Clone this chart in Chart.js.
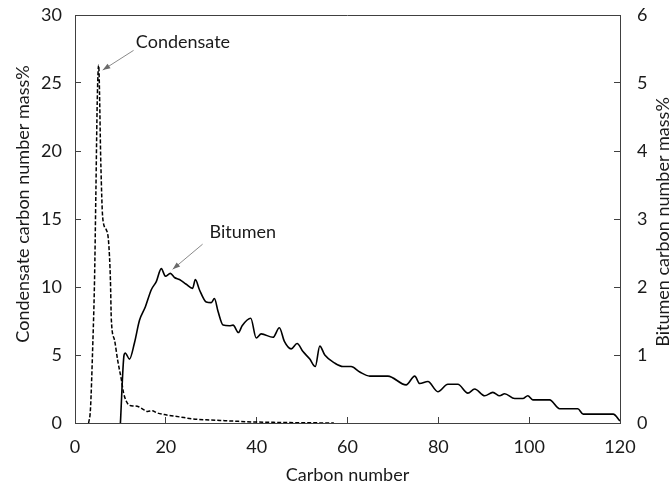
<!DOCTYPE html>
<html>
<head>
<meta charset="utf-8">
<script src="https://cdn.jsdelivr.net/npm/chart.js@4.4.1/dist/chart.umd.min.js"></script>
<style>
  html, body { margin: 0; padding: 0; background: #fff; }
  #wrap { width: 672px; height: 490px; }
</style>
</head>
<body>
<div id="wrap"><canvas id="chart"></canvas></div>
<script>
// Condensate carbon number distribution (left axis, mass%)
const condCarbon = [3, 3.4, 3.9, 4.3, 4.6, 4.9, 5.2, 5.7, 6.1, 6.9, 7.4, 7.8, 8.0, 8.7, 9.4, 10.2, 10.7, 11.3, 12, 13, 14, 15, 16, 17, 18, 20, 23, 26, 30, 33, 36, 40, 45, 50, 57];
const condMass = [0, 1, 5.6, 10.5, 17, 23.7, 26.3, 18.9, 15.1, 14.2, 13.3, 10.5, 7.6, 6.1, 4.6, 3.2, 2.2, 1.6, 1.3, 1.25, 1.2, 1.0, 0.85, 0.9, 0.75, 0.6, 0.45, 0.3, 0.22, 0.17, 0.12, 0.07, 0.04, 0.02, 0];

// Bitumen carbon number distribution (right axis, mass%)
const bitCarbon = [10, 10.8, 11.05, 12, 13.1, 14.2, 15.5, 16.8, 17.9, 19.0, 19.9, 21, 21.9, 23, 24.5, 25.9, 26.5, 27.4, 28.9, 30, 30.7, 31.5, 32.6, 34, 34.8, 36, 36.8, 38.7, 39.9, 41, 43.6, 45, 46.1, 47.6, 48.9, 50.2, 51.7, 52.9, 53.9, 55, 57.2, 59, 60.8, 62.7, 64.9, 68.9, 72.9, 74.8, 75.9, 77.7, 79.9, 82.1, 84.3, 86.5, 88, 90.2, 92, 93.5, 94.6, 96.8, 98.6, 99.7, 100.8, 104.5, 106.7, 110.7, 111.9, 118.5, 120];
const bitMass = [0, 1.0, 1.03, 0.94, 1.18, 1.51, 1.71, 1.96, 2.08, 2.27, 2.16, 2.2, 2.14, 2.11, 2.04, 1.98, 2.11, 1.96, 1.78, 1.77, 1.83, 1.64, 1.44, 1.43, 1.44, 1.33, 1.43, 1.54, 1.25, 1.31, 1.26, 1.4, 1.2, 1.09, 1.17, 1.05, 0.94, 0.83, 1.13, 1.0, 0.88, 0.83, 0.83, 0.75, 0.69, 0.69, 0.56, 0.69, 0.58, 0.61, 0.46, 0.57, 0.57, 0.44, 0.5, 0.4, 0.45, 0.4, 0.43, 0.36, 0.36, 0.4, 0.34, 0.34, 0.21, 0.21, 0.13, 0.13, 0.03];

// Axis ranges and titles
const xRange = [0, 120, 20];
const leftRange = [0, 30, 5];
const rightRange = [0, 6, 1];
const xTitle = "Carbon number";
const leftTitle = "Condensate carbon number mass%";
const rightTitle = "Bitumen carbon number mass%";

const FONT = "Lato, 'Open Sans', sans-serif";
const INK = "#1a1a1a";
const AXIS = "#404040";

const toPoints = (xs, ys) => xs.map((x, i) => ({ x: x, y: ys[i] }));

// fixed plot box: y axes keep the plot top at 15px
const fixY = (w) => (s) => {
    s.width = w;
    s.paddingTop = 15;
    s.paddingBottom = 0;
};

// Draws the plot frame, both y axis titles and the two arrow labels
const extras = {
    id: "extras",
    afterDraw(chart) {
        const ctx = chart.ctx;
        const a = chart.chartArea;
        const sx = chart.scales.x, sy = chart.scales.y, sy1 = chart.scales.y1;
        ctx.save();
        ctx.strokeStyle = AXIS;
        ctx.lineWidth = 1;
        ctx.beginPath();
        ctx.moveTo(a.left, a.top + 0.5);
        ctx.lineTo(a.right, a.top + 0.5);
        ctx.stroke();
        ctx.restore();

        // y axis titles, both reading bottom to top
        const vText = (text, x, y) => {
            ctx.save();
            ctx.fillStyle = INK;
            ctx.font = "18px " + FONT;
            ctx.textAlign = "center";
            ctx.textBaseline = "middle";
            ctx.translate(x, y);
            ctx.rotate(-Math.PI / 2);
            ctx.fillText(text, 0, 0);
            ctx.restore();
        };
        vText(leftTitle, 23, 204);
        vText(rightTitle, 663, 222);

        const arrow = (x1, y1, x2, y2) => {
            ctx.save();
            ctx.strokeStyle = "#8a8a8a";
            ctx.fillStyle = "#6a6a6a";
            ctx.lineWidth = 1;
            ctx.beginPath();
            ctx.moveTo(x1, y1);
            ctx.lineTo(x2, y2);
            ctx.stroke();
            const ang = Math.atan2(y2 - y1, x2 - x1);
            ctx.beginPath();
            ctx.moveTo(x2, y2);
            ctx.lineTo(x2 - 8 * Math.cos(ang - 0.35), y2 - 8 * Math.sin(ang - 0.35));
            ctx.lineTo(x2 - 8 * Math.cos(ang + 0.35), y2 - 8 * Math.sin(ang + 0.35));
            ctx.closePath();
            ctx.fill();
            ctx.restore();
        };

        ctx.save();
        ctx.fillStyle = INK;
        ctx.font = "18px " + FONT;
        ctx.textAlign = "left";
        ctx.textBaseline = "middle";
        // Condensate label
        arrow(sx.getPixelForValue(12.9), sy.getPixelForValue(27.4), sx.getPixelForValue(6.1), sy.getPixelForValue(25.95));
        ctx.fillText("Condensate", sx.getPixelForValue(13.4), sy.getPixelForValue(28.0));
        // Bitumen label
        arrow(sx.getPixelForValue(28.1), sy1.getPixelForValue(2.63), sx.getPixelForValue(21.5), sy1.getPixelForValue(2.26));
        ctx.fillText("Bitumen", sx.getPixelForValue(29.6), sy1.getPixelForValue(2.81));
        ctx.restore();
    },
};

new Chart(document.getElementById("chart"), {
    type: "line",
    plugins: [extras],
    data: {
        datasets: [
            {
                label: "Condensate",
                data: toPoints(condCarbon, condMass),
                yAxisID: "y",
                borderColor: "#000",
                borderWidth: 1.5,
                borderDash: [4, 2],
                pointRadius: 0,
                cubicInterpolationMode: "monotone",
                fill: false,
            },
            {
                label: "Bitumen",
                data: toPoints(bitCarbon, bitMass),
                yAxisID: "y1",
                borderColor: "#000",
                borderWidth: 1.6,
                pointRadius: 0,
                cubicInterpolationMode: "monotone",
                fill: false,
            },
        ],
    },
    options: {
        responsive: true,
        maintainAspectRatio: false,
        animation: false,
        layout: { padding: 0 },
        plugins: {
            legend: { display: false },
            tooltip: { enabled: false },
        },
        scales: {
            x: {
                type: "linear",
                position: "bottom",
                min: xRange[0],
                max: xRange[1],
                afterFit: (s) => { s.height = 67; },
                ticks: { stepSize: xRange[2], padding: 19, color: INK, font: { family: FONT, size: 18 } },
                grid: { drawOnChartArea: false, tickLength: -6, color: AXIS },
                border: { color: AXIS },
                title: { display: true, text: xTitle, color: INK, font: { family: FONT, size: 18 }, padding: { top: 0, bottom: 4 } },
            },
            y: {
                position: "left",
                min: leftRange[0],
                max: leftRange[1],
                afterFit: fixY(75),
                ticks: { stepSize: leftRange[2], padding: 19, color: INK, font: { family: FONT, size: 18 } },
                grid: { drawOnChartArea: false, tickLength: -6, color: AXIS },
                border: { color: AXIS },
            },
            y1: {
                position: "right",
                min: rightRange[0],
                max: rightRange[1],
                afterFit: fixY(52),
                ticks: { stepSize: rightRange[2], padding: 23, color: INK, font: { family: FONT, size: 18 } },
                grid: { drawOnChartArea: false, tickLength: -6, color: AXIS },
                border: { color: AXIS },
            },
        },
    },
});
</script>
</body>
</html>
